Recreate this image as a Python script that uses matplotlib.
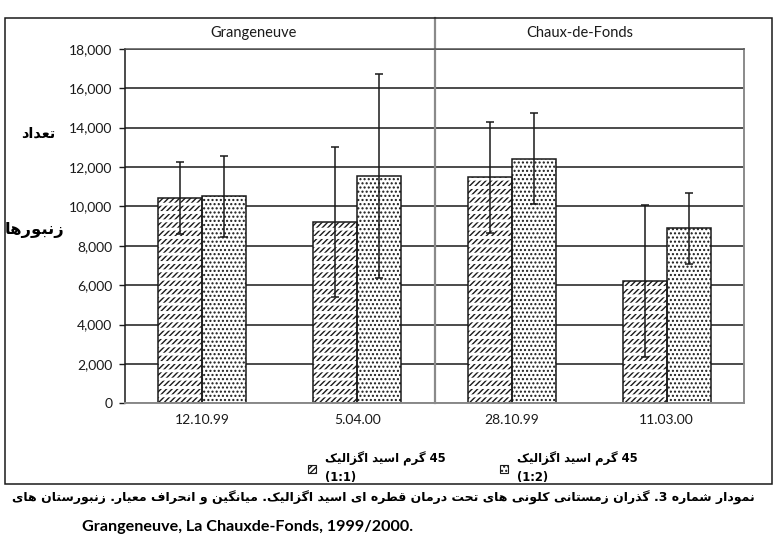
import matplotlib
matplotlib.use('Agg')
import matplotlib.pyplot as plt
from matplotlib.patches import Rectangle
from matplotlib.font_manager import FontProperties
from matplotlib.ticker import FuncFormatter
import numpy as np

# ---------------- data ----------------
categories = ['12.10.99', '5.04.00', '28.10.99', '11.03.00']
sites = ['Grangeneuve', 'Chaux-de-Fonds']
mean_1_1 = [10400, 9190, 11470, 6220]
sd_1_1 = [1830, 3810, 2820, 3860]
mean_1_2 = [10500, 11520, 12420, 8880]
sd_1_2 = [2040, 5180, 2310, 1800]
yticks = [0, 2000, 4000, 6000, 8000, 10000, 12000, 14000, 16000, 18000]
series_fa = '45 گرم اسید اگزالیک'
ratio_1 = '(1:1)'
ratio_2 = '(1:2)'
ylabel_top = 'تعداد'
ylabel_bottom = 'زنبورها'
caption_fa = 'نمودار شماره 3. گذران زمستانی کلونی های تحت درمان قطره ای اسید اگزالیک. میانگین و انحراف معیار. زنبورستان های'
caption_en = 'Grangeneuve, La Chauxde-Fonds, 1999/2000.'

# ------------- Persian shaping (presentation forms, visual order) -------------
FORMS = {
    '\u0627': ('\uFE8D', '\uFE8E', None, None),
    '\u0628': ('\uFE8F', '\uFE90', '\uFE91', '\uFE92'),
    '\u062A': ('\uFE95', '\uFE96', '\uFE97', '\uFE98'),
    '\u062D': ('\uFEA1', '\uFEA2', '\uFEA3', '\uFEA4'),
    '\u062F': ('\uFEA9', '\uFEAA', None, None),
    '\u0630': ('\uFEAB', '\uFEAC', None, None),
    '\u0631': ('\uFEAD', '\uFEAE', None, None),
    '\u0632': ('\uFEAF', '\uFEB0', None, None),
    '\u0633': ('\uFEB1', '\uFEB2', '\uFEB3', '\uFEB4'),
    '\u0634': ('\uFEB5', '\uFEB6', '\uFEB7', '\uFEB8'),
    '\u0637': ('\uFEC1', '\uFEC2', '\uFEC3', '\uFEC4'),
    '\u0639': ('\uFEC9', '\uFECA', '\uFECB', '\uFECC'),
    '\u0641': ('\uFED1', '\uFED2', '\uFED3', '\uFED4'),
    '\u0642': ('\uFED5', '\uFED6', '\uFED7', '\uFED8'),
    '\u0644': ('\uFEDD', '\uFEDE', '\uFEDF', '\uFEE0'),
    '\u0645': ('\uFEE1', '\uFEE2', '\uFEE3', '\uFEE4'),
    '\u0646': ('\uFEE5', '\uFEE6', '\uFEE7', '\uFEE8'),
    '\u0647': ('\uFEE9', '\uFEEA', '\uFEEB', '\uFEEC'),
    '\u0648': ('\uFEED', '\uFEEE', None, None),
    '\u06A9': ('\uFB8E', '\uFB8F', '\uFB90', '\uFB91'),
    '\u06AF': ('\uFB92', '\uFB93', '\uFB94', '\uFB95'),
    '\u06CC': ('\uFBFC', '\uFBFD', '\uFBFE', '\uFBFF'),
}
NORMAL = {'\u0643': '\u06A9', '\u064A': '\u06CC', '\u0649': '\u06CC'}


def shape_rev(w):
    w = ''.join(NORMAL.get(c, c) for c in w)
    out = []
    n = len(w)
    for i, ch in enumerate(w):
        if ch not in FORMS:
            out.append(ch)
            continue
        iso, fin, ini, med = FORMS[ch]
        prev = w[i - 1] if i > 0 else None
        nxt = w[i + 1] if i < n - 1 else None
        jp = prev in FORMS and FORMS[prev][2] is not None
        jn = (ini is not None) and (nxt in FORMS)
        out.append(med if (jp and jn) else fin if jp else ini if jn else iso)
    return ''.join(reversed(out))


def fa(text):
    """Logical Persian text -> visual (right-to-left) string for matplotlib."""
    toks = []
    for w in text.split(' '):
        core, trail = w, ''
        while core and core[-1] in '.،:':
            trail = core[-1] + trail
            core = core[:-1]
        if any((c in FORMS) or (c in NORMAL) for c in core):
            vis = shape_rev(core)
        else:
            vis = core
        toks.append(trail[::-1] + vis)
    return ' '.join(reversed(toks))


# ---------------- figure ----------------
W, H = 784, 546
fig = plt.figure(figsize=(W / 100, H / 100), dpi=100)
fig.patch.set_facecolor('white')


def P(x, y):
    return (x / W, 1 - y / H)


LAT = 'Lato'
FA_FONT = ['DejaVu Sans']
ink = '#1a1a1a'
DIAG = '//////'
DOTS = '....'

ax_l, ax_r, ax_t, ax_b = 125, 744, 48.7, 403.3
ax = fig.add_axes([ax_l / W, 1 - ax_b / H, (ax_r - ax_l) / W, (ax_b - ax_t) / H])

x = np.arange(len(categories))
bw = 0.284

# series 1: dashed upward diagonal pattern (diagonals cut by white horizontal rows)
ax.bar(x - bw / 2, mean_1_1, bw, facecolor='white', edgecolor=ink, linewidth=0,
       hatch=DIAG, zorder=2)
cuts = ax.bar(x - bw / 2, mean_1_1, bw, facecolor='none', edgecolor='white', linewidth=0,
              hatch='--', zorder=2.1)
for p in cuts:
    if hasattr(p, 'set_hatch_linewidth'):
        p.set_hatch_linewidth(2.1)
ax.bar(x - bw / 2, mean_1_1, bw, facecolor='none', edgecolor=ink, linewidth=1.1, zorder=2.2)

# series 2: dotted pattern
ax.bar(x + bw / 2, mean_1_2, bw, facecolor='white', edgecolor=ink, linewidth=0,
       hatch=DOTS, zorder=2)
ax.bar(x + bw / 2, mean_1_2, bw, facecolor='none', edgecolor=ink, linewidth=1.1, zorder=2.2)

ax.errorbar(x - bw / 2, mean_1_1, yerr=sd_1_1, fmt='none', ecolor=ink, elinewidth=1.1,
            capsize=2.6, capthick=1.1, zorder=3)
ax.errorbar(x + bw / 2, mean_1_2, yerr=sd_1_2, fmt='none', ecolor=ink, elinewidth=1.1,
            capsize=2.6, capthick=1.1, zorder=3)

ax.set_xlim(-0.5, len(categories) - 0.5)
ax.set_ylim(0, 18000)
ax.set_yticks(yticks)
ax.yaxis.set_major_formatter(FuncFormatter(lambda v, p: f'{v:,.0f}'))
ax.set_xticks(x, categories)
ax.yaxis.grid(True, color=ink, linewidth=1.1)
ax.set_axisbelow(True)
ax.tick_params(axis='y', direction='out', length=4, width=1, color=ink, pad=5,
               labelsize=10, labelcolor=ink)
ax.tick_params(axis='x', length=0, pad=8, labelsize=10, labelcolor=ink)
for lab in ax.get_xticklabels() + ax.get_yticklabels():
    lab.set_fontfamily(LAT)
ax.spines['left'].set_color(ink)
ax.spines['left'].set_linewidth(1.1)
ax.spines['top'].set_color('#555555')
ax.spines['top'].set_linewidth(1.1)
for s in ('right', 'bottom'):
    ax.spines[s].set_color('#8a8a8a')
    ax.spines[s].set_linewidth(1.4)

# divider between the two apiaries, reaching into the title row
ax.axvline(1.5, ymin=0, ymax=(ax_b - 18) / (ax_b - ax_t), color='#8a8a8a', linewidth=1.6,
           clip_on=False, zorder=1.5)

# site titles
fig.text(*P(254, 33), sites[0], ha='center', va='center', fontsize=10.5, family=LAT, color=ink)
fig.text(*P(580, 33), sites[1], ha='center', va='center', fontsize=10.5, family=LAT, color=ink)

# outer frame
fig.add_artist(Rectangle(P(5, 484), (772 - 5) / W, (484 - 18) / H, transform=fig.transFigure,
                         facecolor='none', edgecolor=ink, linewidth=1.1))

renderer = fig.canvas.get_renderer()


def fit(t, target):
    w = t.get_window_extent(renderer=renderer).width
    t.set_fontsize(t.get_fontsize() * target / w)


# y-axis labels (Persian)
t1 = fig.text(*P(38, 134), fa(ylabel_top), ha='center', va='center', fontsize=11,
              family=FA_FONT, weight='bold', color='black')
fit(t1, 34)
t2 = fig.text(*P(35, 230), fa(ylabel_bottom), ha='center', va='center', fontsize=14,
              family=FA_FONT, weight='bold', color='black')
fit(t2, 60)

# legend
h1 = Rectangle((0, 0), 1, 1, facecolor='white', edgecolor=ink, linewidth=0.8, hatch=DIAG)
h2 = Rectangle((0, 0), 1, 1, facecolor='white', edgecolor=ink, linewidth=0.8, hatch=DOTS)
leg_fs = 8.4
leg = ax.legend([h1, h2], [fa(series_fa) + '\n' + ratio_1, fa(series_fa) + '\n' + ratio_2],
                ncol=2, loc='upper left', bbox_to_anchor=P(302, 446),
                bbox_transform=fig.transFigure, frameon=False, borderpad=0,
                prop=FontProperties(family=FA_FONT, weight='bold', size=leg_fs),
                handlelength=0.7, handleheight=0.7, handletextpad=0.8,
                columnspacing=4.6, labelspacing=0)
for t in leg.get_texts():
    t.set_linespacing(1.45)

# caption (right-to-left first line, Latin second line)
c1 = fig.text(*P(755, 498), fa(caption_fa), ha='right', va='center', fontsize=10,
              family=FA_FONT, weight='bold', color='black')
fit(c1, 743)
c2 = fig.text(*P(82, 527), caption_en, ha='left', va='center', fontsize=10.5,
              family=LAT, weight='bold', color='black')
fit(c2, 333)

fig.savefig('out.png', dpi=100)
